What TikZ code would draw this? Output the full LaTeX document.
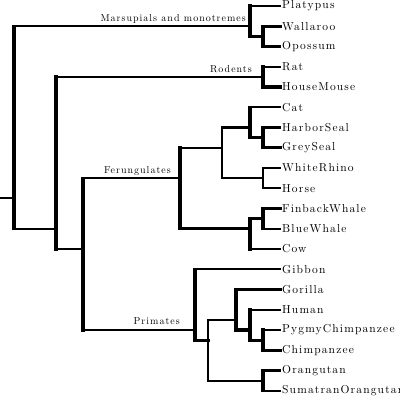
\documentclass[tikz,border=0pt]{standalone}
\usepackage{fontspec}
\newfontfamily\arvorefont{lmroman10-regular.otf}[LetterSpace=10]
\begin{document}
\begin{tikzpicture}[x=1pt, y=-1pt, line cap=rect,
    fino/.style={line width=2.2pt},
    grosso/.style={line width=3.2pt},
    folha/.style={anchor=west, inner xsep=2pt, inner ysep=0pt,
      font=\arvorefont\fontsize{11.5}{12}\selectfont},
    grupo/.style={anchor=base east, inner sep=0pt,
      font=\arvorefont\fontsize{10}{11}\selectfont}]
  \useasboundingbox (0,0) rectangle (400,398);
  % folhas, uma linha a cada 20.25
  \foreach \xn/\xnome/\xtxt in {
    0/platypus/Platypus, 1/wallaroo/Wallaroo, 2/opossum/Opossum,
    3/rat/Rat, 4/mouse/HouseMouse, 5/cat/Cat, 6/harbor/HarborSeal,
    7/grey/GreySeal, 8/rhino/WhiteRhino, 9/horse/Horse,
    10/finback/FinbackWhale, 11/blue/BlueWhale, 12/cow/Cow,
    13/gibbon/Gibbon, 14/gorilla/Gorilla, 15/human/Human,
    16/pygmy/PygmyChimpanzee, 17/chimp/Chimpanzee,
    18/orangutan/Orangutan, 19/sumatran/SumatranOrangutar}
    \node[folha] (\xnome) at (280,{6+20.25*\xn}) {\xtxt};
  % nos internos (y = media das folhas)
  \foreach \xnome/\xx/\xy in {
    root/14/198.375, marsup/250/26.25, walopo/263/36.375,
    rest/56/228.75, rodents/263/76.875, eutheria/83/249,
    ferung/180/178.125, carniv/222/147.75, catseal/250/127.5,
    seals/263/137.625, rhinos/263/178.125, whalecow/250/228.75,
    whales/263/218.625, primates/195/330, apes/208/340.125,
    gorillas/236/319.875, humans/250/330, chimps/263/340.125,
    orangs/263/380.625}
    \coordinate (\xnome) at (\xx,\xy);
  \coordinate (stub) at (0,198.375);
  % verticais: do primeiro ao ultimo filho
  \foreach \xp/\xa/\xb/\xw in {
    root/marsup/rest/grosso, marsup/platypus/walopo/grosso,
    walopo/wallaroo/opossum/grosso, rest/rodents/eutheria/grosso,
    rodents/rat/mouse/grosso, eutheria/ferung/primates/grosso,
    ferung/carniv/whalecow/grosso, carniv/catseal/rhinos/fino,
    catseal/cat/seals/grosso, seals/harbor/grey/grosso,
    rhinos/rhino/horse/fino, whalecow/whales/cow/grosso,
    whales/finback/blue/grosso, primates/gibbon/apes/grosso,
    apes/gorillas/orangs/fino, gorillas/gorilla/humans/grosso,
    humans/human/chimps/grosso, chimps/pygmy/chimp/grosso,
    orangs/orangutan/sumatran/grosso}
    \draw[\xw] (\xp |- \xa) -- (\xp |- \xb);
  % horizontais: de cada no a cada filho
  \draw[fino] (stub) -- (root);
  \foreach \xp/\xf/\xw in {
    root/marsup/fino, root/rest/fino, marsup/platypus/fino,
    marsup/walopo/grosso, walopo/wallaroo/grosso, walopo/opossum/fino,
    rest/rodents/fino, rest/eutheria/fino, rodents/rat/fino,
    rodents/mouse/grosso, eutheria/ferung/fino, eutheria/primates/fino,
    ferung/carniv/fino, ferung/whalecow/grosso, carniv/catseal/fino,
    carniv/rhinos/fino, catseal/cat/fino, catseal/seals/grosso,
    seals/harbor/fino, seals/grey/grosso, rhinos/rhino/fino,
    rhinos/horse/fino, whalecow/whales/grosso, whalecow/cow/fino,
    whales/finback/grosso, whales/blue/fino, primates/gibbon/fino,
    primates/apes/grosso, apes/gorillas/fino, apes/orangs/fino,
    gorillas/gorilla/grosso, gorillas/humans/grosso, humans/human/fino,
    humans/chimps/grosso, chimps/pygmy/fino, chimps/chimp/grosso,
    orangs/orangutan/fino, orangs/sumatran/fino}
    \draw[\xw] (\xp |- \xf) -- (\xf);
  % nomes dos grupos
  \node[grupo] (lblmarsup) at (246,21.5) {Marsupials and monotremes};
  \node[grupo] (lblrodents) at (252,72.5) {Rodents};
  \node[grupo] (lblferung) at (171,173.5) {Ferungulates};
  \node[grupo] (lblprimates) at (180,325) {Primates};
\end{tikzpicture}
\end{document}
